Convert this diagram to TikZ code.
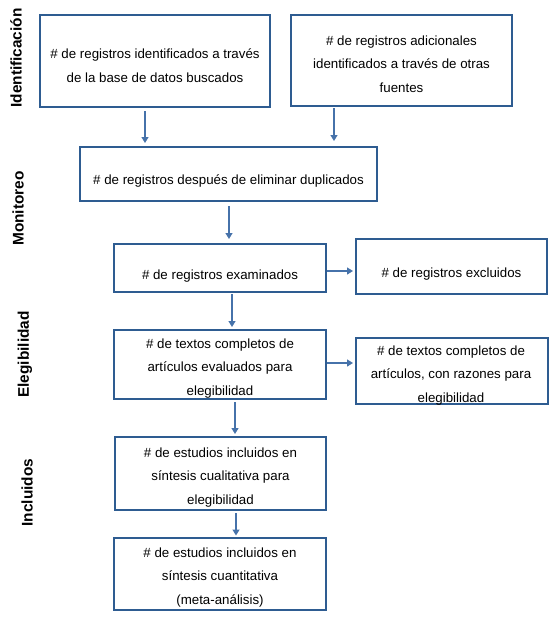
\documentclass[tikz,border=0pt]{standalone}
\usepackage{fontspec}
\setmainfont{Liberation Sans}
\usetikzlibrary{arrows.meta}
\definecolor{boxblue}{RGB}{46,92,145}
\definecolor{arrblue}{RGB}{70,114,170}
\begin{document}
\begin{tikzpicture}[x=1pt,y=-1pt,
 box/.style={draw=boxblue,line width=2pt,inner sep=0pt,outer sep=0pt},
 txt/.style={align=center,font=\fontsize{13.3}{23.7}\selectfont,inner sep=0pt},
 side/.style={rotate=90,font=\fontsize{15.4}{18}\selectfont\bfseries,inner sep=0pt},
 arr/.style={draw=arrblue,line width=1.2pt,-{Triangle[width=7pt,length=6pt]}}]
\fill[white] (0,0) rectangle (559,624);
\useasboundingbox (0,0) rectangle (559,624);

% side labels
\node[side] (s1) at (16,58) {Identificación};
\node[side] (s2) at (18,208.5) {Monitoreo};
\node[side] (s3) at (25,354.5) {Elegibilidad};
\node[side] (s4) at (27,492.5) {Incluidos};

% boxes
\node[box,minimum width=230pt,minimum height=92pt] (b1) at (155,61) {};
\node[box,minimum width=221pt,minimum height=91pt] (b2) at (401.5,60.5) {};
\node[box,minimum width=297pt,minimum height=54pt] (b3) at (228.5,174) {};
\node[box,minimum width=212pt,minimum height=48pt] (b4) at (220,268) {};
\node[box,minimum width=191pt,minimum height=55pt] (b5) at (451.5,266.5) {};
\node[box,minimum width=212pt,minimum height=69pt] (b6) at (220,364.5) {};
\node[box,minimum width=192pt,minimum height=66pt] (b7) at (452,371) {};
\node[box,minimum width=211pt,minimum height=73pt] (b8) at (220.5,473.5) {};
\node[box,minimum width=212pt,minimum height=72pt] (b9) at (220,574) {};

% texts
\node[txt] (t1) at (155,66) {\# de registros identificados a través\\de la base de datos buscados};
\node[txt] (t2) at (401.5,64) {\# de registros adicionales\\identificados a través de otras\\fuentes};
\node[txt] (t3) at (228.5,181) {\# de registros después de eliminar duplicados};
\node[txt] (t4) at (220,276) {\# de registros examinados};
\node[txt] (t5) at (451.5,274) {\# de registros excluidos};
\node[txt] (t6) at (220,368.5) {\# de textos completos de\\artículos evaluados para\\elegibilidad};
\node[txt] (t7) at (451,375.5) {\# de textos completos de\\artículos, con razones para\\elegibilidad};
\node[txt] (t8) at (220.5,477.5) {\# de estudios incluidos en\\síntesis cualitativa para\\elegibilidad};
\node[txt] (t9) at (220,577.5) {\# de estudios incluidos en\\síntesis cuantitativa\\(meta-análisis)};

% arrows
\draw[arr] ([xshift=-10pt,yshift=-4pt]b1.south) -- ([xshift=-83.5pt,yshift=4pt]b3.north);
\draw[arr] ([xshift=-67.5pt,yshift=-2pt]b2.south) -- ([xshift=105.5pt,yshift=6pt]b3.north);
\draw[arr] ([xshift=0.5pt,yshift=-5pt]b3.south) -- ([xshift=9pt,yshift=5pt]b4.north);
\draw[arr] ([xshift=1pt,yshift=-3pt]b4.east) -- ([xshift=-3pt,yshift=-4.5pt]b5.west);
\draw[arr] ([xshift=12pt,yshift=-2pt]b4.south) -- ([xshift=12pt,yshift=3pt]b6.north);
\draw[arr] ([xshift=1pt,yshift=1.5pt]b6.east) -- ([xshift=-3pt,yshift=8pt]b7.west);
\draw[arr] ([xshift=15pt,yshift=-3pt]b6.south) -- ([xshift=14.5pt,yshift=3pt]b8.north);
\draw[arr] ([xshift=15.5pt,yshift=-3pt]b8.south) -- ([xshift=16pt,yshift=2.5pt]b9.north);
\end{tikzpicture}
\end{document}
